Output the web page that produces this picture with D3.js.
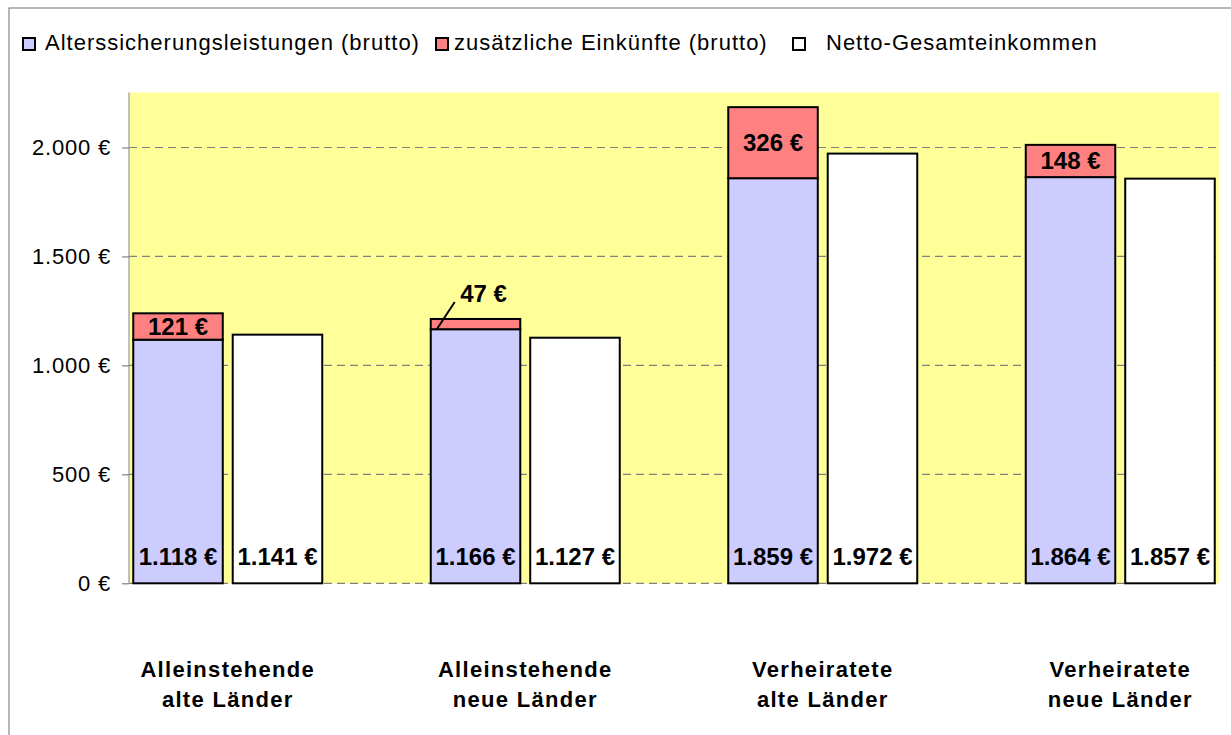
<!DOCTYPE html>
<html><head><meta charset="utf-8">
<script src="https://cdn.jsdelivr.net/npm/d3@7"></script>
<style>
html,body{margin:0;padding:0;background:#fff;}
svg{display:block;font-family:"Liberation Sans",Arial,sans-serif;}
</style></head>
<body>
<svg id="chart" width="1231" height="735"></svg>
<script>
// ---- data ----
const categories = ["Alleinstehende\nalte Länder","Alleinstehende\nneue Länder","Verheiratete\nalte Länder","Verheiratete\nneue Länder"];
const alterssicherung = [1118,1166,1859,1864];   // Alterssicherungsleistungen (brutto)
const zusaetzlich = [121,47,326,148];            // zusätzliche Einkünfte (brutto)
const netto = [1141,1127,1972,1857];             // Netto-Gesamteinkommen
const yTicks = [0,500,1000,1500,2000];
const legendLabels = ["Alterssicherungsleistungen (brutto)","zusätzliche Einkünfte (brutto)","Netto-Gesamteinkommen"];
const colors = ["#CCCCFF","#FF8080","#FFFFFF"];

const de = d3.formatLocale({decimal:",",thousands:".",grouping:[3],currency:["","€"]});
const fmt = v => de.format(",.0f")(v) + " €";

const svg = d3.select("#chart");

// outer chart border
svg.append("rect").attr("x",9).attr("y",8).attr("width",1240).attr("height",760)
  .attr("fill","#fff").attr("stroke","#888").attr("stroke-width",1.2);

// plot area
const plot = {left:129, right:1219, top:92.5, bottom:583.3};
svg.append("rect").attr("x",plot.left).attr("y",plot.top)
  .attr("width",plot.right-plot.left).attr("height",plot.bottom-plot.top).attr("fill","#FFFF99");

const y = d3.scaleLinear().domain([0,2250]).range([plot.bottom, plot.top+0.5]);
const x0 = d3.scaleBand().domain(categories).range([79,1269]).padding(0);
const x1 = d3.scaleBand().domain(["brutto","netto"]).range([-94.5,94.5]).paddingInner(0.1);

// gridlines
svg.append("g").selectAll("line").data(yTicks).join("line")
  .attr("x1",plot.left).attr("x2",plot.right)
  .attr("y1",d=>y(d)).attr("y2",d=>y(d))
  .attr("stroke","#808080").attr("stroke-width",1.2).attr("stroke-dasharray","8,5");

// y axis
const yAxis = d3.axisLeft(y).tickValues(yTicks).tickFormat(fmt).tickSize(7).tickPadding(11);
const ga = svg.append("g").attr("transform",`translate(${plot.left},0)`).call(yAxis);
ga.select(".domain").attr("stroke","#999").attr("stroke-width",1.2).attr("d",`M0,${plot.top}V${plot.bottom}`);
ga.selectAll(".tick line").attr("stroke","#808080").attr("stroke-width",1.2);
ga.selectAll(".tick text").attr("fill","#000").style("font-size","22px").style("letter-spacing","0.8px")
  .style("font-family","'Liberation Sans',Arial,sans-serif");

// bars
const groups = svg.append("g").selectAll("g").data(categories).join("g")
  .attr("transform",d=>`translate(${x0(d)+x0.bandwidth()/2},0)`);

const bw = x1.bandwidth();
// blue
groups.append("rect").attr("x",x1("brutto")).attr("width",bw)
  .attr("y",(d,i)=>y(alterssicherung[i])).attr("height",(d,i)=>y(0)-y(alterssicherung[i]))
  .attr("fill",colors[0]).attr("stroke","#000").attr("stroke-width",2);
// red
groups.append("rect").attr("x",x1("brutto")).attr("width",bw)
  .attr("y",(d,i)=>y(alterssicherung[i]+zusaetzlich[i]))
  .attr("height",(d,i)=>y(alterssicherung[i])-y(alterssicherung[i]+zusaetzlich[i]))
  .attr("fill",colors[1]).attr("stroke","#000").attr("stroke-width",2);
// white
groups.append("rect").attr("x",x1("netto")).attr("width",bw)
  .attr("y",(d,i)=>y(netto[i])).attr("height",(d,i)=>y(0)-y(netto[i]))
  .attr("fill",colors[2]).attr("stroke","#000").attr("stroke-width",2);

const bold = sel => sel.attr("font-weight","bold").attr("fill","#000").style("font-size","24px").attr("text-anchor","middle");

// bottom value labels
groups.append("text").call(bold).attr("x",x1("brutto")+bw/2).attr("y",y(0)-18)
  .text((d,i)=>fmt(alterssicherung[i]));
groups.append("text").call(bold).attr("x",x1("netto")+bw/2).attr("y",y(0)-18)
  .text((d,i)=>fmt(netto[i]));

// red segment labels
groups.each(function(d,i){
  const g = d3.select(this);
  const top = y(alterssicherung[i]+zusaetzlich[i]);
  const bot = y(alterssicherung[i]);
  const cx = x1("brutto")+bw/2;
  if (bot-top > 20) {
    g.append("text").call(bold).attr("x",cx).attr("y",(top+bot)/2+8.5).text(fmt(zusaetzlich[i]));
  } else {
    const xl = x1("brutto");
    g.append("line").attr("x1",xl+6).attr("y1",bot).attr("x2",xl+24).attr("y2",top-17)
      .attr("stroke","#000").attr("stroke-width",2);
    g.append("text").call(bold).attr("x",cx+8).attr("y",top-17).text(fmt(zusaetzlich[i]));
  }
});

// category labels
groups.append("text").attr("text-anchor","middle").attr("font-weight","bold").attr("fill","#000")
  .style("font-size","22px").style("letter-spacing","1.3px")
  .each(function(d){
    const t = d3.select(this);
    d.split("\n").forEach((line,k)=>{
      t.append("tspan").attr("x",0).attr("y",676.5+k*30).text(line);
    });
  });

// legend
const legendPos = [{sx:23, tx:45},{sx:436, tx:454},{sx:793, tx:826}];
const lg = svg.append("g").selectAll("g").data(legendLabels).join("g");
lg.append("rect").attr("x",(d,i)=>legendPos[i].sx).attr("y",38).attr("width",12).attr("height",12)
  .attr("fill",(d,i)=>colors[i]).attr("stroke","#000").attr("stroke-width",2);
lg.append("text").attr("x",(d,i)=>legendPos[i].tx).attr("y",49.5).attr("fill","#000")
  .style("font-size","22px").style("letter-spacing","1px").text(d=>d);
</script>
</body></html>
